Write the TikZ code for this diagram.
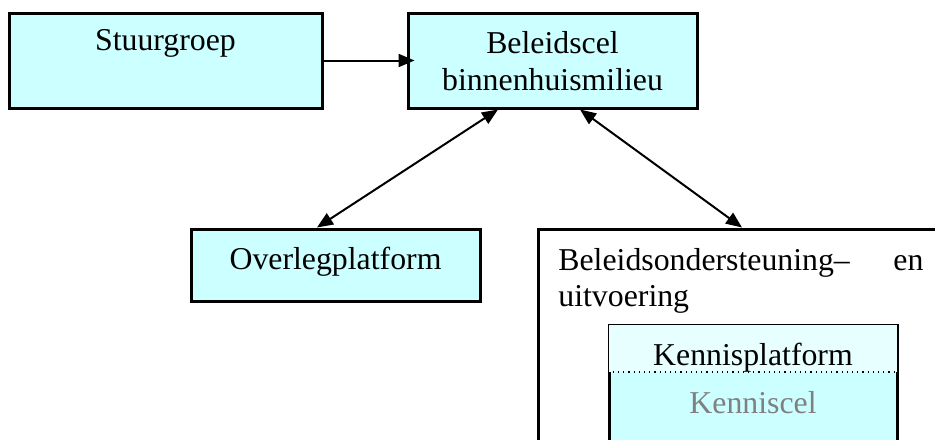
\documentclass[tikz,border=0pt]{standalone}
\usepackage{fontspec}
\setmainfont{Liberation Serif}
\usetikzlibrary{arrows.meta}
\definecolor{lichtblauw}{HTML}{CCFFFF}
\begin{document}
\begin{tikzpicture}[x=0.5pt,y=-0.5pt,
    vak/.style={draw,line width=1.5pt,fill=lichtblauw,inner sep=0pt},
    tekst/.style={inner sep=0pt,anchor=base,font=\fontsize{15.9}{18.5}\selectfont},
    pijl/.style={line width=1pt,-{Triangle[length=8pt,width=6.5pt]}},
    dubbel/.style={line width=1pt,{Triangle[length=8pt,width=6.5pt]}-{Triangle[length=8pt,width=6.5pt]}}]
  \useasboundingbox (0,0) rectangle (935,439);
  \clip (0,0) rectangle (935,439);
  % vakken
  \node[vak,minimum width=156.5pt,minimum height=47.5pt] (stuur) at (165.5,60.5) {};
  \node[vak,minimum width=144.5pt,minimum height=47.5pt] (beleid) at (552.5,60.5) {};
  \node[vak,minimum width=144.5pt,minimum height=36pt] (overleg) at (335.5,265) {};
  \node[draw,line width=1.5pt,fill=white,inner sep=0pt,minimum width=203.5pt,minimum height=110.5pt] (groot) at (741.5,339.5) {};
  \node[vak,minimum width=144pt,minimum height=62.5pt] (kennis) at (753,387.5) {};
  \coordinate (grens) at (0,372);
  \fill[lichtblauw!45!white] ([xshift=0.75pt,yshift=-0.75pt]kennis.north west) rectangle ([xshift=-0.75pt]kennis.east |- grens);
  \draw[dotted,line width=0.6pt] (kennis.west |- grens) -- (kennis.east |- grens);
  % teksten
  \node[tekst] (t1) at (165.5,50) {Stuurgroep};
  \node[tekst] (t2) at (552.5,53) {Beleidscel};
  \node[tekst] (t3) at (552.5,90) {binnenhuismilieu};
  \node[tekst] (t4) at (335.5,269) {Overlegplatform};
  \node[tekst,anchor=base west] (t5) at (558,270) {\hbox to 182.5pt{Beleidsondersteuning–\hfill en}};
  \node[tekst,anchor=base west] (t6) at (558,306) {uitvoering};
  \node[tekst] (t7) at (753,365) {Kennisplatform};
  \node[tekst,text=gray] (t8) at (753,413) {Kenniscel};
  % pijlen
  \begin{scope}[]
    \draw[pijl] (stuur.east) -- ([xshift=4pt]beleid.west);
    \draw[dubbel] ([xshift=-27.25pt]beleid.south) -- ([xshift=-9.25pt]overleg.north);
    \draw[dubbel] ([xshift=13.75pt]beleid.south) -- ([xshift=0.25pt]groot.north);
  \end{scope}
\end{tikzpicture}
\end{document}
